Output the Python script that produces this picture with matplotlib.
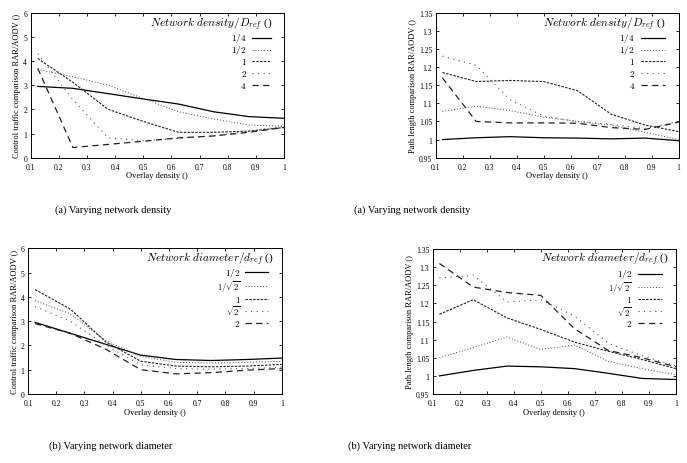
import matplotlib
matplotlib.use("Agg")
import matplotlib.pyplot as plt
from matplotlib.ticker import MultipleLocator, FuncFormatter

plt.rcParams['font.family'] = ['Liberation Serif', 'DejaVu Serif']
plt.rcParams['mathtext.fontset'] = 'cm'

overlay = [0.125, 0.25, 0.375, 0.5, 0.625, 0.75, 0.875, 1.0]

# (a) Control traffic, varying network density
ct_density_labels = ['$1/4$', '$1/2$', '$1$', '$2$', '$4$']
ct_d_q = [2.95, 2.87, 2.65, 2.43, 2.22, 1.90, 1.70, 1.63]
ct_d_h = [3.65, 3.35, 3.00, 2.45, 1.90, 1.60, 1.35, 1.30]
ct_d_1 = [4.10, 3.12, 2.00, 1.50, 1.05, 1.05, 1.10, 1.25]
ct_d_2 = [4.30, 2.40, 0.82, 0.70, 0.80, 0.90, 1.10, 1.30]
ct_d_4 = [3.70, 0.42, 0.55, 0.68, 0.82, 0.90, 1.05, 1.25]

# (a) Path length, varying network density
pl_d_q = [1.000, 1.005, 1.008, 1.005, 1.004, 1.002, 1.004, 0.997]
pl_d_h = [1.078, 1.092, 1.080, 1.062, 1.050, 1.040, 1.020, 1.000]
pl_d_1 = [1.185, 1.160, 1.163, 1.160, 1.135, 1.070, 1.040, 1.022]
pl_d_2 = [1.230, 1.205, 1.110, 1.065, 1.050, 1.042, 1.030, 1.050]
pl_d_4 = [1.170, 1.050, 1.046, 1.046, 1.045, 1.033, 1.028, 1.048]

# (b) Control traffic, varying network diameter
diam_labels = ['$1/2$', '$1/\\sqrt{2}$', '$1$', '$\\sqrt{2}$', '$2$']
ct_m_h = [2.95, 2.50, 2.05, 1.60, 1.42, 1.38, 1.42, 1.48]
ct_m_r = [3.85, 3.30, 2.20, 1.55, 1.30, 1.28, 1.30, 1.35]
ct_m_1 = [4.30, 3.50, 2.15, 1.35, 1.15, 1.12, 1.15, 1.22]
ct_m_s = [3.60, 3.00, 2.00, 1.20, 1.05, 1.02, 1.05, 1.10]
ct_m_2 = [2.90, 2.50, 1.85, 1.00, 0.83, 0.88, 0.98, 1.05]

# (b) Path length, varying network diameter
pl_m_h = [1.000, 1.015, 1.027, 1.025, 1.020, 1.007, 0.993, 0.990]
pl_m_r = [1.050, 1.078, 1.107, 1.073, 1.085, 1.040, 1.020, 1.003]
pl_m_1 = [1.170, 1.210, 1.160, 1.128, 1.093, 1.068, 1.045, 1.020]
pl_m_s = [1.270, 1.278, 1.204, 1.210, 1.165, 1.090, 1.055, 1.028]
pl_m_2 = [1.310, 1.245, 1.230, 1.222, 1.130, 1.070, 1.050, 1.025]

ylab_ct = 'Control traffic comparison RAR/AODV ()'
ylab_pl = 'Path length comparison RAR/AODV ()'
xlab = 'Overlay density ()'

styles = [
    dict(color='black', lw=0.9, ls='-'),
    dict(color='#444444', lw=0.7, ls=(0, (1.0, 2.0))),
    dict(color='#222222', lw=0.8, ls=(0, (2.2, 1.2))),
    dict(color='#555555', lw=0.8, ls=(0, (1.0, 4.0))),
    dict(color='#222222', lw=0.9, ls=(0, (5, 3.5))),
]

fig = plt.figure(figsize=(6.87, 4.64), dpi=100)

panels = [
    dict(rect=[0.0447, 0.658, 0.3687, 0.3125], series=[ct_d_q, ct_d_h, ct_d_1, ct_d_2, ct_d_4],
         labels=ct_density_labels, ylim=(0, 6), ystep=1, ylabel=ylab_ct,
         title='$Network\\ density/D_{ref}$ ()', tx=0.711, ty=0.927, lr=0.853, l0=0.875, l1=0.947,
         ey=[0.826, 0.743, 0.665, 0.584, 0.499], lfs=[6.8] * 5),
    dict(rect=[0.6342, 0.658, 0.3537, 0.3125], series=[pl_d_q, pl_d_h, pl_d_1, pl_d_2, pl_d_4],
         labels=ct_density_labels, ylim=(0.95, 1.35), ystep=0.05, ylabel=ylab_pl,
         title='$Network\\ density/D_{ref}$ ()', tx=0.695, ty=0.927, lr=0.820, l0=0.844, l1=0.943,
         ey=[0.826, 0.743, 0.665, 0.584, 0.499], lfs=[6.8] * 5),
    dict(rect=[0.0408, 0.1487, 0.3693, 0.314], series=[ct_m_h, ct_m_r, ct_m_1, ct_m_s, ct_m_2],
         labels=diam_labels, ylim=(0, 6), ystep=1, ylabel=ylab_ct,
         title='$Network\\ diameter/d_{ref}$ ()', tx=0.717, ty=0.93, lr=0.838, l0=0.857, l1=0.946,
         ey=[0.834, 0.738, 0.653, 0.572, 0.490], lfs=[6.8, 6.3, 6.8, 6.3, 6.8]),
    dict(rect=[0.6298, 0.1487, 0.3541, 0.3125], series=[pl_m_h, pl_m_r, pl_m_1, pl_m_s, pl_m_2],
         labels=diam_labels, ylim=(0.95, 1.35), ystep=0.05, ylabel=ylab_pl,
         title='$Network\\ diameter/d_{ref}$ ()', tx=0.707, ty=0.935, lr=0.820, l0=0.842, l1=0.941,
         ey=[0.831, 0.737, 0.652, 0.571, 0.489], lfs=[6.8, 6.3, 6.8, 6.3, 6.8]),
]

fmt = FuncFormatter(lambda v, p: ('%g' % round(v, 4)))

for pnl in panels:
    ax = fig.add_axes(pnl['rect'])
    for ys, st in zip(pnl['series'], styles):
        ax.plot(overlay, ys, **st)
    ax.set_xlim(0.1, 1.0)
    ax.set_ylim(*pnl['ylim'])
    ax.xaxis.set_major_locator(MultipleLocator(0.1))
    ax.yaxis.set_major_locator(MultipleLocator(pnl['ystep']))
    ax.xaxis.set_major_formatter(fmt)
    ax.yaxis.set_major_formatter(fmt)
    ax.tick_params(direction='in', top=True, right=True, length=2.5, width=0.6,
                   labelsize=5.5)
    ax.tick_params(axis='x', pad=3.5)
    ax.tick_params(axis='y', pad=2.5)
    for s in ax.spines.values():
        s.set_linewidth(0.7)
    ax.set_xlabel(xlab, fontsize=6, labelpad=0.5)
    ax.set_ylabel(pnl['ylabel'], fontsize=6, labelpad=1.5)
    # legend (gnuplot style: right-justified labels, sample on the right)
    ax.text(pnl['tx'], pnl['ty'], pnl['title'], transform=ax.transAxes,
            ha='center', va='center', fontsize=8.2)
    for lab, y, st, fs in zip(pnl['labels'], pnl['ey'], styles, pnl['lfs']):
        ax.text(pnl['lr'], y, lab, transform=ax.transAxes, ha='right', va='center', fontsize=fs)
        ax.plot([pnl['l0'], pnl['l1']], [y, y], transform=ax.transAxes, **st)

fig.text(113/687, 1 - 210/464, '(a) Varying network density', ha='center', va='center', fontsize=7.5)
fig.text(412/687, 1 - 210/464, '(a) Varying network density', ha='center', va='center', fontsize=7.5)
fig.text(111/687, 1 - 446/464, '(b) Varying network diameter', ha='center', va='center', fontsize=7.5)
fig.text(410/687, 1 - 446/464, '(b) Varying network diameter', ha='center', va='center', fontsize=7.5)

fig.savefig('out.png', dpi=100, facecolor='white')
